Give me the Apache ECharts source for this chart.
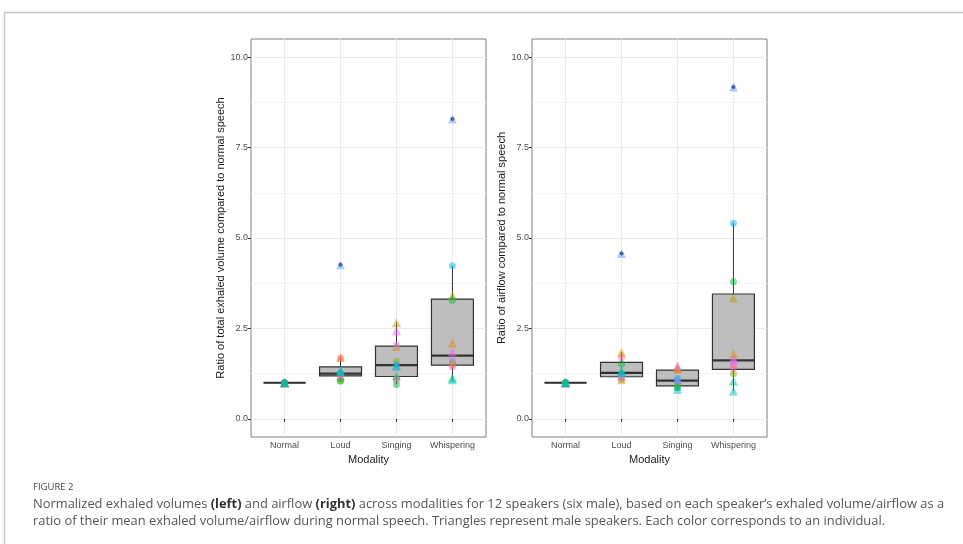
<!DOCTYPE html>
<html>
<head>
<meta charset="utf-8">
<script src="https://cdn.jsdelivr.net/npm/echarts@6/dist/echarts.min.js"></script>
<style>
  html, body { margin: 0; padding: 0; background: #ffffff; }
  #chart { width: 963px; height: 544px; }
</style>
</head>
<body>
<div id="chart"></div>
<script>
// ---- data -------------------------------------------------------------
const modalities = ['Normal', 'Loud', 'Singing', 'Whispering'];
const speakers = ['S01', 'S02', 'S03', 'S04', 'S05', 'S06', 'S07', 'S08', 'S09', 'S10', 'S11', 'S12'];
const maleSpeaker = [false, true, true, false, false, true, true, false, true, false, true, false];

// Exhaled volume relative to the speaker's mean in normal speech (one value per speaker)
const volumeNormal     = [1.00, 1.00, 1.00, 1.00, 1.00, 1.00, 1.00, 1.00, 1.00, 1.00, 1.00, 1.00];
const volumeLoud       = [1.24, 1.70, 1.15, 1.06, 1.04, 1.31, 1.36, 1.26, 4.26, 1.22, 1.20, 1.68];
const volumeSinging    = [1.12, 2.00, 2.66, 1.59, 0.95, 1.19, 1.47, 1.50, 1.45, 2.05, 2.43, 1.08];
const volumeWhispering = [1.50, 2.10, 3.41, 1.56, 3.28, 1.13, 1.08, 4.23, 8.29, 1.64, 1.86, 1.44];

// Airflow relative to the speaker's mean in normal speech
const airflowNormal     = [1.00, 1.00, 1.00, 1.00, 1.00, 1.00, 1.00, 1.00, 1.00, 1.00, 1.00, 1.00];
const airflowLoud       = [1.15, 1.84, 1.08, 1.10, 1.52, 1.33, 1.29, 1.25, 4.57, 1.21, 1.17, 1.70];
const airflowSinging    = [0.98, 1.38, 1.42, 0.92, 0.86, 0.90, 0.81, 1.12, 1.08, 1.04, 1.47, 1.34];
const airflowWhispering = [1.50, 1.80, 3.34, 1.25, 3.79, 1.04, 0.77, 5.41, 9.17, 1.58, 1.66, 1.41];

const yTickValues  = [0, 2.5, 5, 7.5, 10];
const yMinorValues = [1.25, 3.75, 6.25, 8.75];

// ---- styling ----------------------------------------------------------
const speakerPalette = ['#F8766D', '#DE8C00', '#B79F00', '#7CAE00', '#00BA38', '#00C08B',
                        '#00BFC4', '#00B4F0', '#619CFF', '#C77CFF', '#F564E3', '#FF64B0'];
// order in which the speakers' points are painted (later ones end up on top)
const paintOrder = [0, 11, 1, 2, 3, 9, 10, 7, 8, 4, 6, 5];
const FONT = 'Liberation Sans, Arial, Helvetica, sans-serif';
const CAPTION_FONT = 'Open Sans, sans-serif';
const INK = '#333333';

// ---- boxplot statistics (Tukey, quantile type 7) ------------------------
function quantile(sorted, p) {
  const h = (sorted.length - 1) * p;
  const lo = Math.floor(h), hi = Math.ceil(h);
  return sorted[lo] + (h - lo) * (sorted[hi] - sorted[lo]);
}
function boxStats(values) {
  const s = values.slice().sort((a, b) => a - b);
  const q1 = quantile(s, 0.25), med = quantile(s, 0.5), q3 = quantile(s, 0.75);
  const iqr = q3 - q1;
  const lowFence = q1 - 1.5 * iqr, highFence = q3 + 1.5 * iqr;
  const inside = s.filter(v => v >= lowFence && v <= highFence);
  return {
    q1, med, q3,
    lo: inside[0], hi: inside[inside.length - 1],
    outliers: s.filter(v => v < lowFence || v > highFence)
  };
}

function renderBox(params, api) {
  const x = api.value(0);
  const half = 0.375;
  const topLeft  = api.coord([x - half, api.value(3)]);
  const botRight = api.coord([x + half, api.value(1)]);
  const medL = api.coord([x - half, api.value(2)]);
  const medR = api.coord([x + half, api.value(2)]);
  const wLo = api.coord([x, api.value(4)]);
  const wHi = api.coord([x, api.value(5)]);
  const thin = { stroke: INK, lineWidth: 1 };
  return {
    type: 'group',
    children: [
      { type: 'line', shape: { x1: wHi[0], y1: wHi[1], x2: wHi[0], y2: topLeft[1] }, style: thin },
      { type: 'line', shape: { x1: wLo[0], y1: botRight[1], x2: wLo[0], y2: wLo[1] }, style: thin },
      { type: 'rect',
        shape: { x: topLeft[0], y: topLeft[1], width: botRight[0] - topLeft[0], height: botRight[1] - topLeft[1] },
        style: { fill: '#bebebe', stroke: INK, lineWidth: 1.2 } },
      { type: 'line', shape: { x1: medL[0], y1: medL[1], x2: medR[0], y2: medR[1] },
        style: { stroke: INK, lineWidth: 2.2 } }
    ]
  };
}

function panelSeries(columns, gridIdx) {
  const boxData = [], outlierData = [];
  columns.forEach((vals, i) => {
    const st = boxStats(vals);
    boxData.push([i + 1, st.q1, st.med, st.q3, st.lo, st.hi]);
    st.outliers.forEach(v => outlierData.push([i + 1, v]));
  });
  const pointData = [];
  paintOrder.forEach(k => {
    columns.forEach((vals, i) => {
      pointData.push({
        name: speakers[k],
        value: [i + 1, vals[k]],
        symbol: maleSpeaker[k] ? 'triangle' : 'circle',
        symbolSize: maleSpeaker[k] ? 9 : 7,
        itemStyle: { color: speakerPalette[k], opacity: 0.5 }
      });
    });
  });
  return [
    { type: 'custom', xAxisIndex: gridIdx, yAxisIndex: gridIdx * 2, renderItem: renderBox,
      data: boxData, z: 2, silent: true },
    { type: 'scatter', xAxisIndex: gridIdx, yAxisIndex: gridIdx * 2, data: outlierData,
      symbol: 'circle', symbolSize: 4, itemStyle: { color: '#000000' }, z: 3, silent: true },
    { type: 'scatter', xAxisIndex: gridIdx, yAxisIndex: gridIdx * 2, data: pointData, z: 4, silent: true }
  ];
}

function xAxisFor(gridIdx) {
  return {
    type: 'value', gridIndex: gridIdx, min: 0.4, max: 4.6,
    name: 'Modality', nameLocation: 'middle', nameGap: 16,
    nameTextStyle: { fontFamily: FONT, fontSize: 11, color: '#1a1a1a' },
    axisLine: { show: false },
    axisTick: { show: true, length: 3, customValues: [1, 2, 3, 4], lineStyle: { color: INK, width: 1 } },
    axisLabel: { customValues: [1, 2, 3, 4], formatter: v => modalities[Math.round(v) - 1],
                 fontFamily: FONT, fontSize: 9, color: '#4d4d4d', margin: 4 },
    splitLine: { show: true, lineStyle: { color: '#ebebeb', width: 1 } }
  };
}
function yAxesFor(gridIdx, title) {
  return [
    {
      type: 'value', gridIndex: gridIdx, min: -0.5, max: 10.5,
      name: title, nameLocation: 'middle', nameGap: 24,
      nameTextStyle: { fontFamily: FONT, fontSize: 11, color: '#1a1a1a' },
      axisLine: { show: false },
      axisTick: { show: true, length: 3, customValues: yTickValues, lineStyle: { color: INK, width: 1 } },
      axisLabel: { customValues: yTickValues, formatter: v => v.toFixed(1),
                   fontFamily: FONT, fontSize: 9, color: '#4d4d4d', margin: 3 },
      splitLine: { show: true, lineStyle: { color: '#ebebeb', width: 1 } }
    },
    {
      type: 'value', gridIndex: gridIdx, min: -0.5, max: 10.5,
      axisLine: { show: false },
      axisTick: { show: false, customValues: yMinorValues },
      axisLabel: { show: false },
      splitLine: { show: true, lineStyle: { color: '#f3f3f3', width: 1 } }
    }
  ];
}

const chart = echarts.init(document.getElementById('chart'), null, { renderer: 'canvas' });

const captionBody = { fontFamily: CAPTION_FONT, fontSize: 12.9, fill: '#555555', fontWeight: 'normal' };

chart.setOption({
  animation: false,
  backgroundColor: '#ffffff',
  grid: [
    { left: 251, top: 39, width: 235, height: 398, show: true, borderColor: '#7f7f7f', borderWidth: 1,
      backgroundColor: 'transparent' },
    { left: 532, top: 39, width: 235, height: 398, show: true, borderColor: '#7f7f7f', borderWidth: 1,
      backgroundColor: 'transparent' }
  ],
  xAxis: [xAxisFor(0), xAxisFor(1)],
  yAxis: [
    ...yAxesFor(0, 'Ratio of total exhaled volume compared to normal speech'),
    ...yAxesFor(1, 'Ratio of airflow compared to normal speech')
  ],
  series: [
    ...panelSeries([volumeNormal, volumeLoud, volumeSinging, volumeWhispering], 0),
    ...panelSeries([airflowNormal, airflowLoud, airflowSinging, airflowWhispering], 1)
  ],
  graphic: [
    { type: 'rect', silent: true, shape: { x: 4.5, y: 12.5, width: 1000, height: 600 },
      style: { fill: 'none', stroke: '#c4c4c4', lineWidth: 1.5 } },
    { type: 'text', left: 33, top: 482, silent: true,
      style: { text: 'FIGURE 2', fontFamily: CAPTION_FONT, fontSize: 9.5, fill: '#444444' } },
    { type: 'text', left: 33, top: 498, silent: true,
      style: {
        text: '{n|Normalized exhaled volumes }{b|(left)}{n| and airflow }{b|(right)}{n| across modalities for 12 speakers (six male), based on each speaker\u2019s exhaled volume/airflow as a}',
        rich: { n: captionBody, b: Object.assign({}, captionBody, { fontWeight: 'bold', fill: '#333333' }) }
      } },
    { type: 'text', left: 33, top: 515, silent: true,
      style: {
        text: 'ratio of their mean exhaled volume/airflow during normal speech. Triangles represent male speakers. Each color corresponds to an individual.',
        fontFamily: CAPTION_FONT, fontSize: 12.9, fill: '#555555'
      } }
  ]
});
</script>
</body>
</html>
